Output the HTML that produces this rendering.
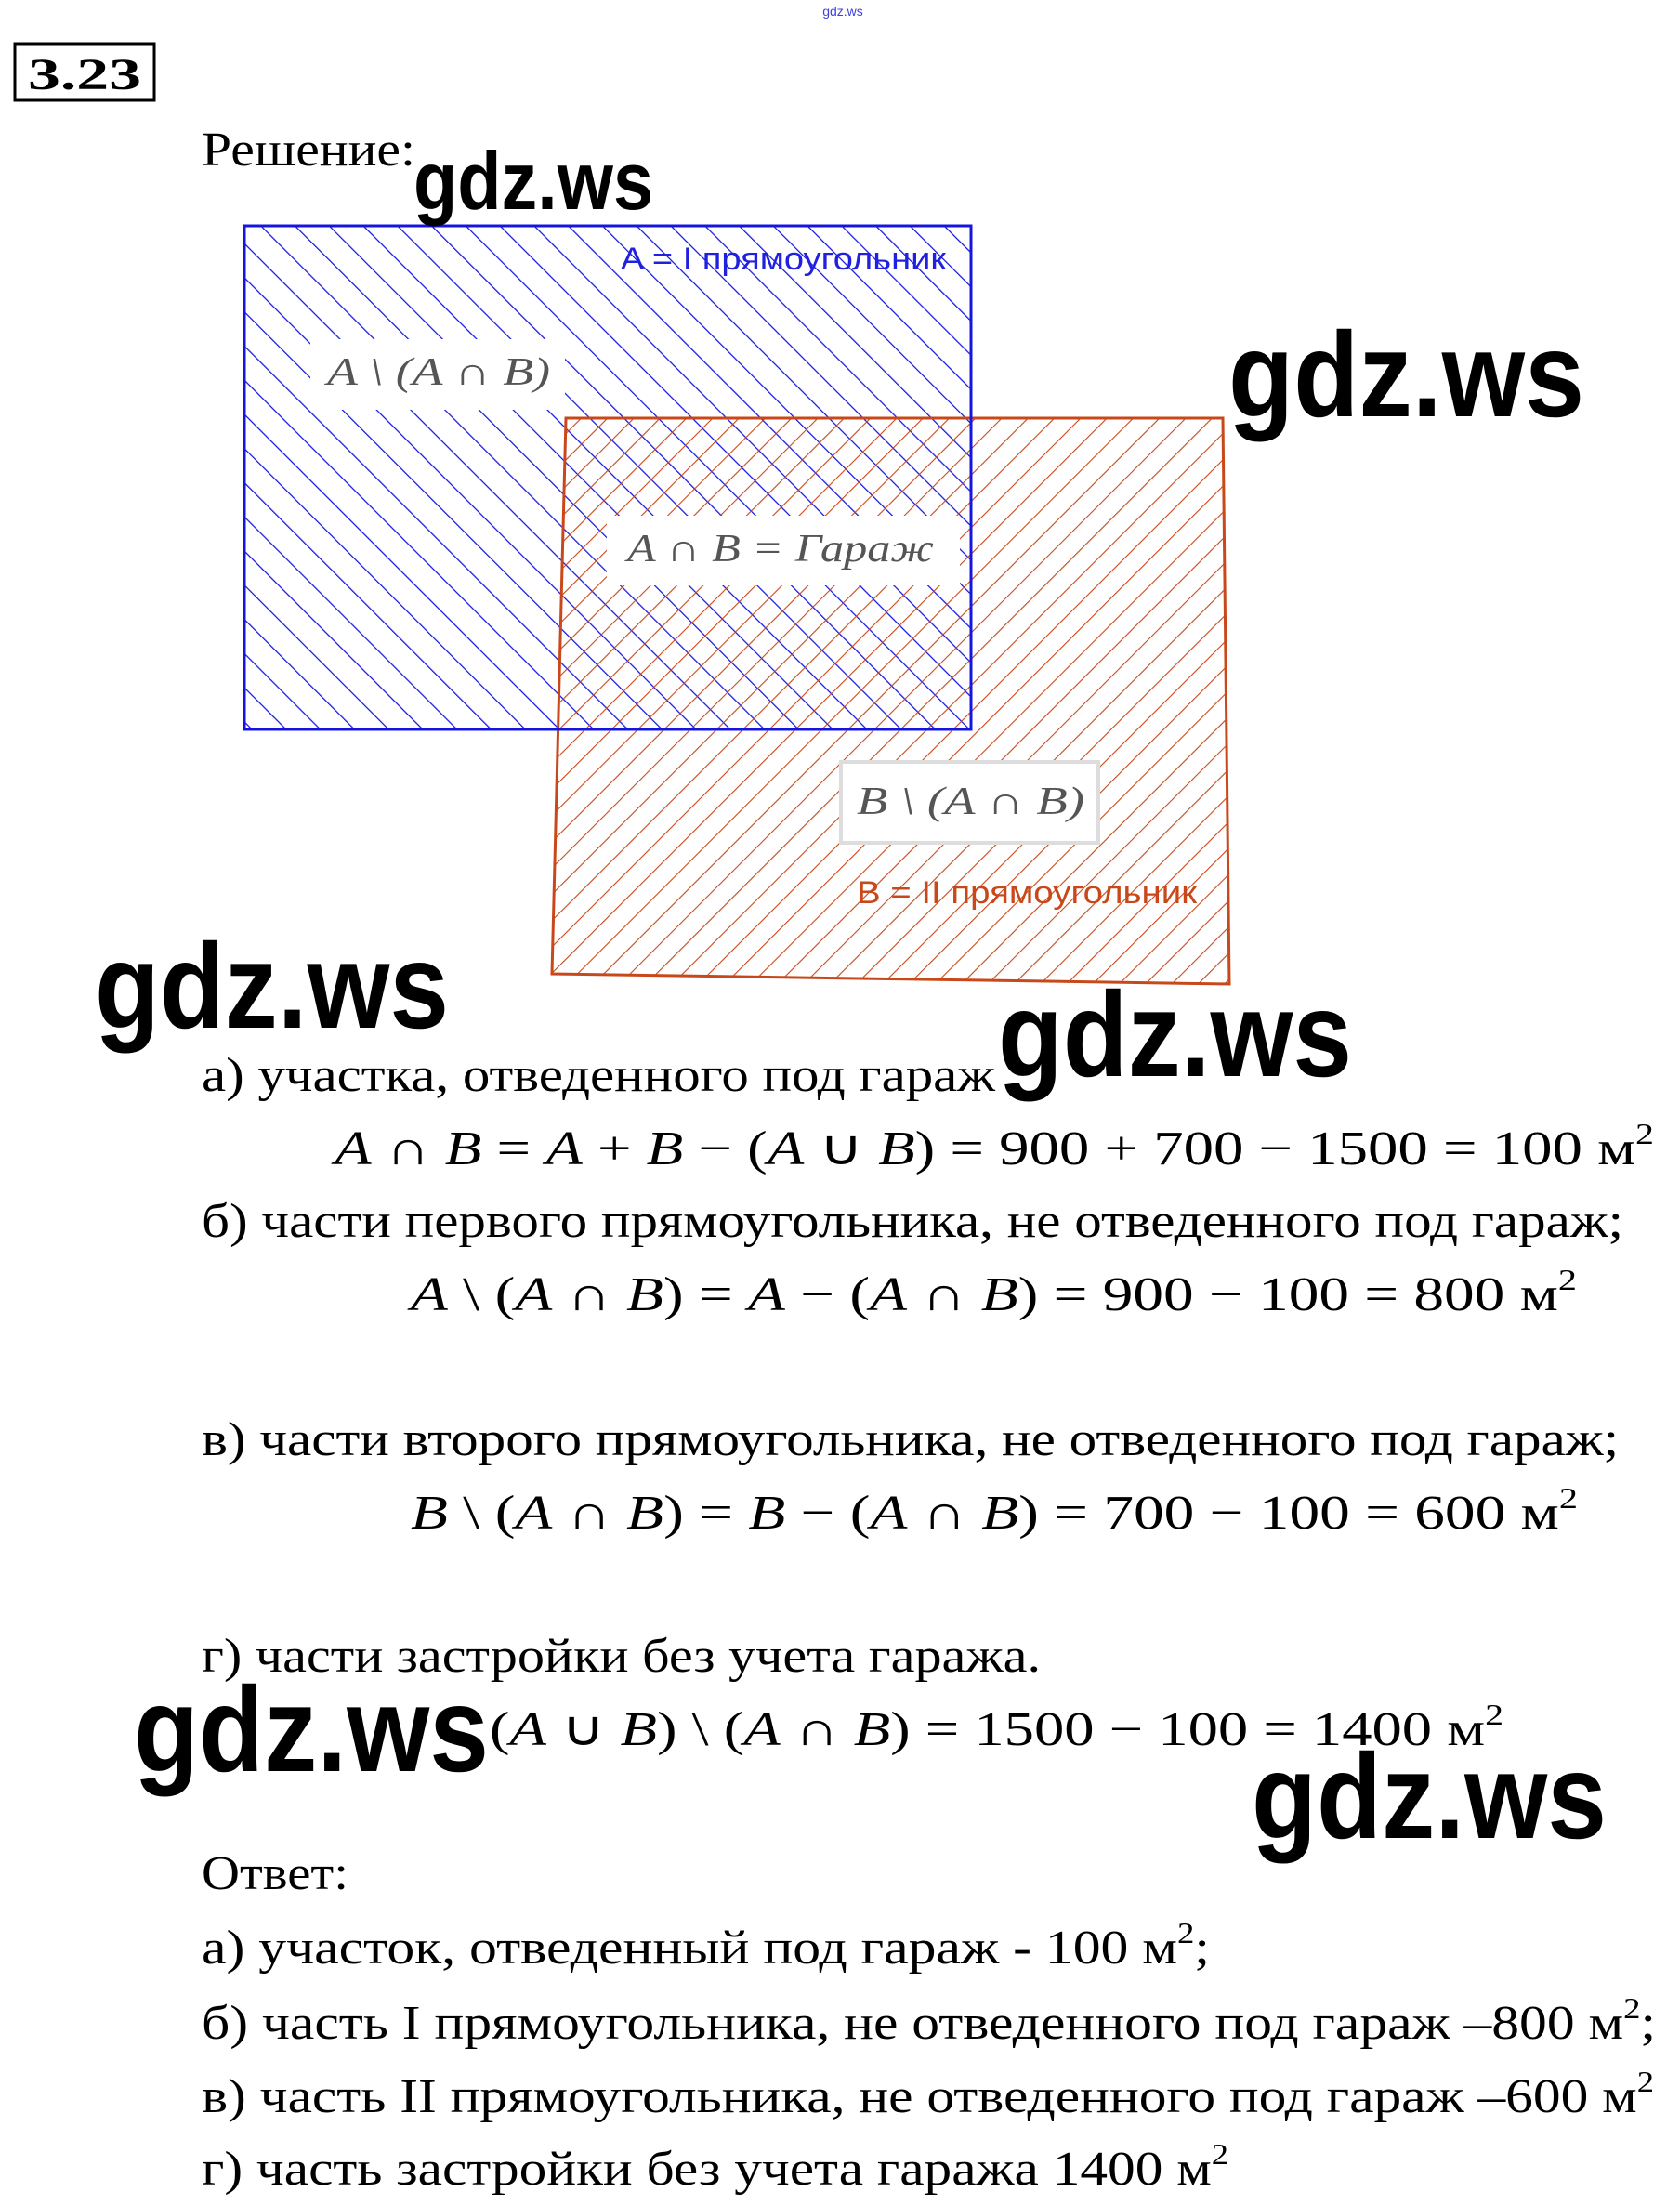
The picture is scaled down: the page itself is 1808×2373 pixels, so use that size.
<!DOCTYPE html>
<html><head><meta charset="utf-8"><style>
html,body{margin:0;padding:0;background:#fff}
svg{display:block}
.b{font-family:"Liberation Serif",serif;font-size:52px;fill:#000}
.m{font-family:"Liberation Serif",serif;font-size:52px;fill:#000}
.w{font-family:"Liberation Sans",sans-serif;font-weight:bold;fill:#000}
.lab{font-family:"Liberation Serif",serif;font-style:italic;font-size:42px;fill:#555}
</style></head><body>
<svg width="1808" height="2373" viewBox="0 0 1808 2373" xmlns="http://www.w3.org/2000/svg">
<defs>
<pattern id="pb" patternUnits="userSpaceOnUse" width="26" height="26" patternTransform="rotate(-45)">
<line x1="0" y1="0" x2="0" y2="26" stroke="#1515e0" stroke-width="2.5"/></pattern>
<pattern id="po" patternUnits="userSpaceOnUse" width="20" height="20" patternTransform="rotate(45)">
<line x1="0" y1="0" x2="0" y2="20" stroke="#c8481a" stroke-width="2.2"/></pattern>
</defs>
<text x="907" y="17" font-family="Liberation Sans,sans-serif" font-size="14" fill="#4040e0" text-anchor="middle">gdz.ws</text>
<rect x="16" y="47" width="150" height="61" fill="none" stroke="#000" stroke-width="3"/>
<text x="30" y="96" font-family="Liberation Serif,serif" font-weight="bold" font-size="48" textLength="122" lengthAdjust="spacingAndGlyphs">3.23</text>
<text class="b" x="217" y="178" textLength="230" lengthAdjust="spacingAndGlyphs">Решение:</text>

<rect x="263" y="243" width="782" height="542" fill="url(#pb)" stroke="#1515e0" stroke-width="3"/>
<polygon points="609,450 1316,450 1323,1059 594,1048" fill="url(#po)" stroke="#c8481a" stroke-width="3"/>
<line x1="263" y1="785" x2="1045" y2="785" stroke="#1515e0" stroke-width="3"/>
<line x1="1045" y1="243" x2="1045" y2="785" stroke="#1515e0" stroke-width="3"/>

<text x="668" y="290" font-family="Liberation Sans,sans-serif" font-size="34" fill="#2020e0" textLength="350" lengthAdjust="spacingAndGlyphs">A = I прямоугольник</text>
<rect x="334" y="365" width="274" height="76" fill="#fff"/>
<text class="lab" x="352" y="414" textLength="240" lengthAdjust="spacingAndGlyphs">A \ (A ∩ B)</text>
<rect x="653" y="555" width="380" height="75" fill="#fff"/>
<text class="lab" x="675" y="604" textLength="330" lengthAdjust="spacingAndGlyphs">A ∩ B = Гараж</text>
<rect x="905" y="820" width="277" height="87" fill="#fff" stroke="#ddd" stroke-width="4"/>
<text class="lab" x="922" y="876" textLength="245" lengthAdjust="spacingAndGlyphs">B \ (A ∩ B)</text>
<text x="922" y="972" font-family="Liberation Sans,sans-serif" font-size="34" fill="#c8481a" textLength="366" lengthAdjust="spacingAndGlyphs">B = II прямоугольник</text>

<text class="b" x="217" y="1174" textLength="854" lengthAdjust="spacingAndGlyphs">а) участка, отведенного под гараж</text>
<text class="m" x="360" y="1253" textLength="1420" lengthAdjust="spacingAndGlyphs"><tspan font-style="italic">A</tspan> ∩ <tspan font-style="italic">B</tspan> = <tspan font-style="italic">A</tspan> + <tspan font-style="italic">B</tspan> − (<tspan font-style="italic">A</tspan> ∪ <tspan font-style="italic">B</tspan>) = 900 + 700 − 1500 = 100 м<tspan font-size="32" dy="-22">2</tspan></text>
<text class="b" x="217" y="1331" textLength="1530" lengthAdjust="spacingAndGlyphs">б) части первого прямоугольника, не отведенного под гараж;</text>
<text class="m" x="442" y="1410" textLength="1255" lengthAdjust="spacingAndGlyphs"><tspan font-style="italic">A</tspan> \ (<tspan font-style="italic">A</tspan> ∩ <tspan font-style="italic">B</tspan>) = <tspan font-style="italic">A</tspan> − (<tspan font-style="italic">A</tspan> ∩ <tspan font-style="italic">B</tspan>) = 900 − 100 = 800 м<tspan font-size="32" dy="-22">2</tspan></text>
<text class="b" x="217" y="1566" textLength="1525" lengthAdjust="spacingAndGlyphs">в) части второго прямоугольника, не отведенного под гараж;</text>
<text class="m" x="442" y="1645" textLength="1256" lengthAdjust="spacingAndGlyphs"><tspan font-style="italic">B</tspan> \ (<tspan font-style="italic">A</tspan> ∩ <tspan font-style="italic">B</tspan>) = <tspan font-style="italic">B</tspan> − (<tspan font-style="italic">A</tspan> ∩ <tspan font-style="italic">B</tspan>) = 700 − 100 = 600 м<tspan font-size="32" dy="-22">2</tspan></text>
<text class="b" x="217" y="1799" textLength="903" lengthAdjust="spacingAndGlyphs">г) части застройки без учета гаража.</text>
<text class="m" x="527" y="1878" textLength="1091" lengthAdjust="spacingAndGlyphs">(<tspan font-style="italic">A</tspan> ∪ <tspan font-style="italic">B</tspan>) \ (<tspan font-style="italic">A</tspan> ∩ <tspan font-style="italic">B</tspan>) = 1500 − 100 = 1400 м<tspan font-size="32" dy="-22">2</tspan></text>
<text class="b" x="217" y="2033" textLength="158" lengthAdjust="spacingAndGlyphs">Ответ:</text>
<text class="b" x="217" y="2113" textLength="1085" lengthAdjust="spacingAndGlyphs">а) участок, отведенный под гараж - 100 м<tspan font-size="32" dy="-22">2</tspan><tspan dy="22">;</tspan></text>
<text class="b" x="217" y="2194" textLength="1565" lengthAdjust="spacingAndGlyphs">б) часть I прямоугольника, не отведенного под гараж –800 м<tspan font-size="32" dy="-22">2</tspan><tspan dy="22">;</tspan></text>
<text class="b" x="217" y="2273" textLength="1563" lengthAdjust="spacingAndGlyphs">в) часть II прямоугольника, не отведенного под гараж –600 м<tspan font-size="32" dy="-22">2</tspan></text>
<text class="b" x="217" y="2351" textLength="1105" lengthAdjust="spacingAndGlyphs">г) часть застройки без учета гаража 1400 м<tspan font-size="32" dy="-22">2</tspan></text>

<text class="w" x="445" y="225" font-size="88" textLength="258" lengthAdjust="spacingAndGlyphs">gdz.ws</text>
<text class="w" x="1322" y="448" font-size="130" textLength="383" lengthAdjust="spacingAndGlyphs">gdz.ws</text>
<text class="w" x="102" y="1106" font-size="130" textLength="381" lengthAdjust="spacingAndGlyphs">gdz.ws</text>
<text class="w" x="1074" y="1158" font-size="130" textLength="381" lengthAdjust="spacingAndGlyphs">gdz.ws</text>
<text class="w" x="144" y="1906" font-size="130" textLength="382" lengthAdjust="spacingAndGlyphs">gdz.ws</text>
<text class="w" x="1347" y="1978" font-size="130" textLength="382" lengthAdjust="spacingAndGlyphs">gdz.ws</text>
</svg>
</body></html>
